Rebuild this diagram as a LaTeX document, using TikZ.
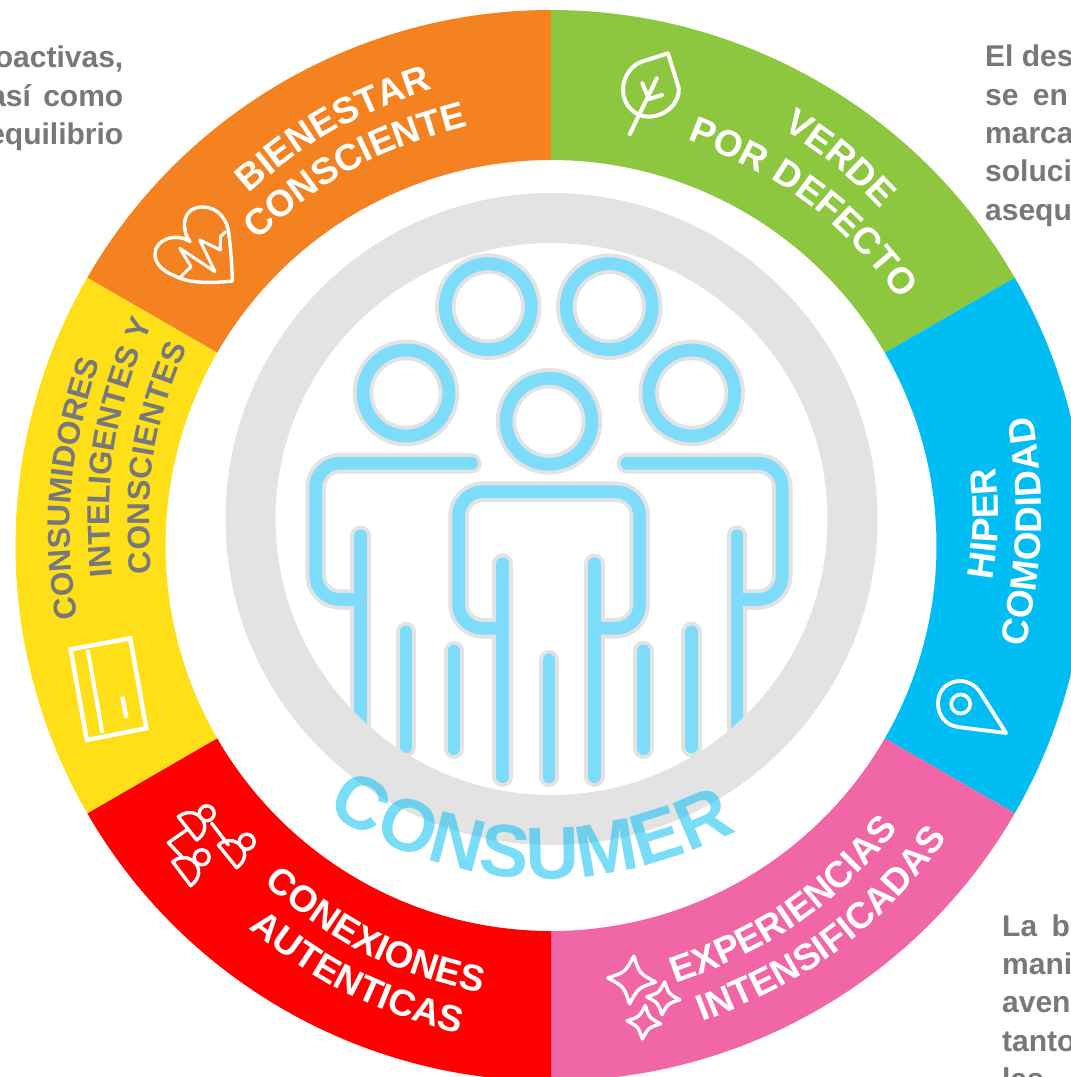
\documentclass[tikz,border=0pt]{standalone}
\usepackage{fontspec}
\setmainfont{Liberation Sans}
\usetikzlibrary{decorations.text}
\definecolor{cOrange}{HTML}{F58220}
\definecolor{cGreen}{HTML}{8DC73F}
\definecolor{cBlue}{HTML}{00BEF3}
\definecolor{cPink}{HTML}{F066A6}
\definecolor{cRed}{HTML}{FF0000}
\definecolor{cYellow}{HTML}{FFDF17}
\definecolor{cRing}{HTML}{E3E3E3}
\definecolor{cIcon}{HTML}{7EDCFB}
\definecolor{cGrayText}{HTML}{77787B}
\newcommand\fntWhite{\color{white}\fontsize{37}{37}\selectfont\bfseries}
\newcommand\fntGray{\color{cGrayText}\fontsize{31.5}{31.5}\selectfont\bfseries}
\newcommand\fntBig{\color{cBlue}\fontsize{74}{74}\selectfont\bfseries}
\newcommand\arclabel[7]{%
  \begin{scope}[y=1pt]
    \path[decorate,decoration={text along path,text align=fit to path,text={|#6|#7}}]
      (#1,-#2) to[#5] (#3,-#4);
  \end{scope}}
\newcommand\seg[3]{%
  \fill[#1] (#2:535.5) arc[start angle=#2,end angle=#3,radius=535.5]
    -- (#3:385.5) arc[start angle=#3,end angle=#2,radius=385.5] -- cycle;}
\newcommand\sparkle[4]{%
  \begin{scope}[shift={(#1,#2)},scale=#3,rotate=#4]
    \draw[iconline,line width=3.4pt] (0,1) .. controls (.3,.3) .. (1,0) .. controls (.3,-.3) .. (0,-1)
      .. controls (-.3,-.3) .. (-1,0) .. controls (-.3,.3) .. cycle;
  \end{scope}}
\newcommand\peoplepaths[1]{%
  \begin{scope}[#1]
    \draw (488.3,306.7) circle[radius=43];
    \draw (609.3,306.7) circle[radius=43];
    \draw (406,393) circle[radius=43];
    \draw (691.7,393) circle[radius=43];
    \draw (549,421.3) circle[radius=43];
    \draw[rounded corners=24pt] (471.5,463.3) -- (315.7,463.3) -- (315.7,599.5) -- (360.7,599.5);
    \draw[rounded corners=24pt] (626.7,463.3) -- (782.3,463.3) -- (782.3,599.5) -- (737,599.5);
    \draw[rounded corners=24pt] (502.7,628.3) -- (458.7,628.3) -- (458.7,491.7) -- (639.7,491.7) -- (639.7,628.3) -- (594.3,628.3);
    \draw (360.7,535.7) -- (360.7,745);
    \draw (737,535.7) -- (737,745);
    \draw (406,632) -- (406,747);
    \draw (691.7,632) -- (691.7,747);
    \draw (454,651) -- (454,748.7);
    \draw (643.7,651) -- (643.7,748.7);
    \draw (502.7,563.7) -- (502.7,776.7);
    \draw (594.3,563.7) -- (594.3,776.7);
    \draw (549,660) -- (549,776.7);
  \end{scope}}
\tikzset{
  iconline/.style={draw=white,line width=3.4pt,line join=round,line cap=round},
  sidetxt/.style={text=cGrayText,font=\fontsize{30}{30}\selectfont\bfseries,inner sep=0pt},
  graylayer/.style={draw=cRing,line width=20.5pt,line cap=round},
  bluelayer/.style={draw=cIcon,line width=12.8pt,line cap=round}
}
\begin{document}
\begin{tikzpicture}[x=1pt,y=-1pt]
\useasboundingbox (0,0) rectangle (1071,1077);
\clip (0,0) rectangle (1071,1077);
\fill[white] (0,0) rectangle (1071,1077);

% side paragraphs, cut by the frame
\node[sidetxt,anchor=base east] (leftA) at (123.5,67.7) {proactivas,};
\node[sidetxt,anchor=base east] (leftB) at (123.5,106) {así\ \hspace{4pt}como};
\node[sidetxt,anchor=base east] (leftC) at (123.5,144) {equilibrio};
\node[sidetxt,anchor=base west] (rightA) at (985,66) {El des};
\node[sidetxt,anchor=base west] (rightB) at (985,105) {se\ \hspace{6pt}en};
\node[sidetxt,anchor=base west] (rightC) at (985,143.5) {marca};
\node[sidetxt,anchor=base west] (rightD) at (985,181.5) {soluci};
\node[sidetxt,anchor=base west] (rightE) at (985,220) {asequ};
\node[sidetxt,anchor=base west] (lowA) at (1002,936.5) {La\ \hspace{6pt}b};
\node[sidetxt,anchor=base west] (lowB) at (1002,974.5) {mani};
\node[sidetxt,anchor=base west] (lowC) at (1002,1012.5) {aven};
\node[sidetxt,anchor=base west] (lowD) at (1002,1051) {tanto};
\node[sidetxt,anchor=base west] (lowE) at (1002,1089) {las};

% ring segments
\begin{scope}[shift={(551,545.5)},y=1pt]
  \seg{cOrange}{90}{150}
  \seg{cGreen}{30}{90}
  \seg{cBlue}{-30}{30}
  \seg{cPink}{-90}{-30}
  \seg{cRed}{-150}{-90}
  \seg{cYellow}{150}{210}
\end{scope}

% people icon
\peoplepaths{graylayer}
\peoplepaths{bluelayer}

% grey ring
\fill[cRing,even odd rule] (551.5,519) circle[radius=326] (551.5,519) circle[radius=276];

% segment labels
\arclabel{248.6}{193.3}{424}{92}{bend left=11}{\fntWhite}{BIENESTAR}
\arclabel{258}{240.7}{462}{128}{bend left=14}{\fntWhite}{CONSCIENTE}
\arclabel{782}{129}{876}{205}{bend left=7}{\fntWhite}{VERDE}
\arclabel{687}{140}{899.6}{300}{bend left=16}{\fntWhite}{POR DEFECTO}
\arclabel{992}{580}{996}{468}{bend right=7}{\fntWhite}{HIPER}
\arclabel{1025.5}{647}{1034}{423}{bend right=10}{\fntWhite}{COMODIDAD}
\arclabel{675}{983.3}{892.5}{836}{bend right=15}{\fntWhite}{EXPERIENCIAS}
\arclabel{702.5}{1021.7}{947.4}{838}{bend right=16}{\fntWhite}{INTENSIFICADAS}
\arclabel{264}{883.3}{480}{992.5}{bend right=14}{\fntWhite}{CONEXIONES}
\arclabel{248.6}{928.3}{459}{1034}{bend right=12}{\fntWhite}{AUTENTICAS}
\arclabel{77.3}{618}{99}{364}{bend left=13}{\fntGray}{CONSUMIDORES}
\arclabel{112.7}{576}{151.7}{325}{bend left=14}{\fntGray}{INTELIGENTES Y}
\arclabel{152}{573}{187}{347}{bend left=14}{\fntGray}{CONSCIENTES}

% CONSUMER
\begin{scope}[opacity=.52]
\arclabel{326}{811.7}{731}{834}{bend right=28}{\fntBig}{CONSUMER}
\end{scope}

% heart
\draw[iconline] (232.4,281) .. controls (215,283) and (190,284) .. (175,276)
  .. controls (160,270) and (155,262) .. (155,254)
  .. controls (155,240) and (175,232) .. (190,241.5)
  .. controls (182,232) and (180,207) .. (203,207)
  .. controls (218,207) and (228,220) .. (229,235)
  .. controls (231,250) and (232,270) .. (232.4,281) -- cycle;
\draw[iconline,line width=3pt] (179,278.3) -- (191,266.7) -- (179.8,248.3) -- (215,271.7)
  -- (199.7,240) -- (220.4,250) -- (220.4,236.7) -- (225.6,231.7);

% leaf
\draw[iconline,line width=4pt] (668,53.3) -- (641.6,61.7) .. controls (630,66) and (623,78) .. (623,90)
  .. controls (623,105) and (635,116.7) .. (648.4,116.7)
  .. controls (665,116.7) and (680,103) .. (678.8,88.3) -- cycle;
\draw[iconline,line width=4pt] (629.7,134.3) -- (656.8,78.3);
\draw[iconline,line width=4pt] (642.3,83.3) -- (648,97);
\draw[iconline,line width=4pt] (662,95) -- (649,99);

% card
\draw[iconline,line width=4.4pt,line cap=butt,line join=miter] (70.6,649.3) -- (130.2,638.3) -- (146.3,728.3) -- (86.8,740) -- cycle;
\draw[iconline,line width=4pt,line cap=butt] (87.8,650) -- (102.3,732.7);
\draw[iconline,line width=4.4pt,line cap=butt] (122.2,696.7) -- (126.4,717.7);

% pin
\draw[iconline,line width=3.8pt] (1006,733) -- (958,727) .. controls (945,725) and (938,715) .. (938,703)
  .. controls (938,690) and (948,681) .. (960,681)
  .. controls (968,681) and (975,685) .. (980,692) -- cycle;
\draw[iconline,line width=3.6pt] (960.7,704) circle[radius=9.5];

% network
\draw[iconline] (206.7,813.3) circle[radius=7.5];
\draw[iconline] (246.7,841.7) circle[radius=7.5];
\draw[iconline] (201.7,857.3) circle[radius=7.5];
\draw[iconline] (178.3,816.7) -- (196.7,840) .. controls (206,834) and (208,822) .. (198,815) .. controls (192,811) and (184,812) .. cycle;
\draw[iconline] (218.3,845) -- (236.7,867.7) .. controls (246,861) and (248,850) .. (238,843) .. controls (232,839) and (224,840) .. cycle;
\draw[iconline] (172.7,861.7) -- (190.7,885.7) .. controls (200,879) and (202,867) .. (192,860) .. controls (186,856) and (178,857) .. cycle;
\draw[iconline] (186.7,830) -- (168.3,842.7) -- (183.3,858.3);
\draw[iconline] (211.7,823.3) -- (228.3,845);

% sparkles
\sparkle{631.7}{980}{24}{-5}
\sparkle{663.3}{998.3}{16.5}{-5}
\sparkle{643.8}{1022.3}{16.8}{-5}
\end{tikzpicture}
\end{document}
